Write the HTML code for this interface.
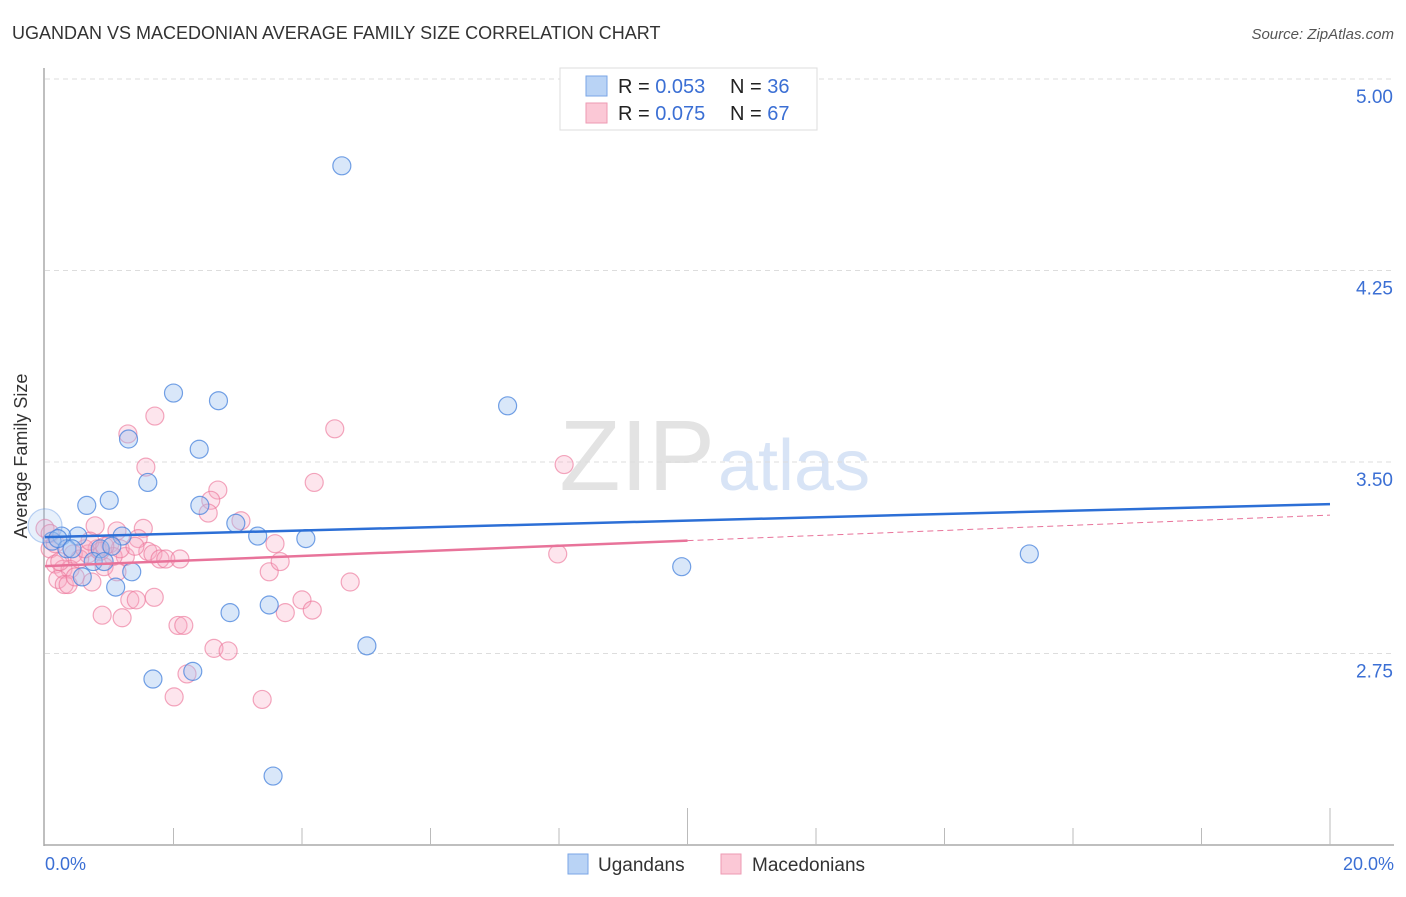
<!DOCTYPE html>
<html><head><meta charset="utf-8"><style>
body{margin:0;background:#fff;font-family:"Liberation Sans",sans-serif;}
svg text{font-family:"Liberation Sans",sans-serif;}
</style></head><body>
<svg id="chart" width="1406" height="892" viewBox="0 0 1406 892">
<text x="12" y="39" font-size="18" fill="#333">UGANDAN VS MACEDONIAN AVERAGE FAMILY SIZE CORRELATION CHART</text>
<text x="1394" y="39" font-size="15" fill="#555" font-style="italic" text-anchor="end">Source: ZipAtlas.com</text>
<text x="715" y="490" font-size="100" fill="#e3e3e3" font-family="Liberation Serif" text-anchor="end">ZIP</text>
<text x="718" y="490" font-size="72" fill="#d8e4f6">atlas</text>
<g id="grid"></g>
<g id="axes"></g>
<g id="pts"></g>
<g id="trend"></g>
<text x="27" y="456" font-size="18" fill="#333" text-anchor="middle" transform="rotate(-90 27 456)">Average Family Size</text>
<g>
<rect x="560" y="68" width="257" height="62" fill="#fff" stroke="#ddd"/>
<rect x="586" y="76" width="21" height="20" fill="#b9d3f5" stroke="#7aa6e6"/>
<rect x="586" y="103" width="21" height="20" fill="#fbc8d6" stroke="#ee9ab3"/>
<text x="618" y="93" font-size="20" fill="#222">R = <tspan fill="#3b6fd4">0.053</tspan><tspan x="730">N = </tspan><tspan fill="#3b6fd4">36</tspan></text>
<text x="618" y="120" font-size="20" fill="#222">R = <tspan fill="#3b6fd4">0.075</tspan><tspan x="730">N = </tspan><tspan fill="#3b6fd4">67</tspan></text>
</g>
<text x="45" y="870" font-size="18" fill="#3b6fd4">0.0%</text>
<text x="1394" y="870" font-size="18" fill="#3b6fd4" text-anchor="end">20.0%</text>
<g><rect x="568" y="854" width="20" height="20" fill="#b9d3f5" stroke="#7aa6e6"/><text x="598" y="871" font-size="19" fill="#333">Ugandans</text></g>
<g><rect x="721" y="854" width="20" height="20" fill="#fbc8d6" stroke="#ee9ab3"/><text x="752" y="871" font-size="19" fill="#333">Macedonians</text></g>
</svg>
<script>
const yTicks=[5.00,4.25,3.50,2.75];
const blueX=[4.62,2.0,2.7,7.2,1.3,2.4,1.6,1.0,0.65,2.41,2.97,3.31,4.06,0.51,0.26,0.11,0.86,0.34,1.2,1.04,0.75,0.92,1.35,0.58,1.1,9.91,15.32,2.88,3.49,5.01,1.68,2.3,3.55,0.0,0.2,0.42];
const blueY=[4.66,3.77,3.74,3.72,3.59,3.55,3.42,3.35,3.33,3.33,3.26,3.21,3.2,3.21,3.21,3.19,3.16,3.16,3.21,3.17,3.11,3.11,3.07,3.05,3.01,3.09,3.14,2.91,2.94,2.78,2.65,2.68,2.27,3.25,3.2,3.16];
const pinkX=[1.71,1.29,4.51,1.57,8.08,4.19,2.69,2.58,2.54,3.05,0.78,1.12,1.53,1.45,3.58,1.01,0.81,1.6,1.68,1.79,1.88,2.1,1.25,1.06,0.67,0.44,7.98,0.08,0.16,0.28,0.39,0.54,3.49,3.66,0.92,0.86,0.2,0.3,0.36,0.73,1.12,4.75,1.32,1.42,1.7,4.0,4.16,0.89,1.2,3.74,2.07,2.16,2.63,2.85,2.01,2.21,3.38,0.0,0.08,0.16,0.62,1.17,0.7,0.93,0.23,0.47,1.4];
const pinkY=[3.68,3.61,3.63,3.48,3.49,3.42,3.39,3.35,3.3,3.27,3.25,3.23,3.24,3.2,3.18,3.18,3.16,3.15,3.14,3.12,3.12,3.12,3.13,3.13,3.14,3.14,3.14,3.16,3.1,3.08,3.08,3.12,3.07,3.11,3.09,3.15,3.04,3.02,3.02,3.03,3.07,3.03,2.96,2.96,2.97,2.96,2.92,2.9,2.89,2.91,2.86,2.86,2.77,2.76,2.58,2.67,2.57,3.24,3.22,3.18,3.16,3.16,3.19,3.17,3.11,3.05,3.17];
const blueTrend=[3.206,3.335];
const pinkTrend=[3.092,3.292];
const NS='http://www.w3.org/2000/svg';
const X=v=>45+v/20*1285, Y=v=>79+(5-v)/0.75*191.5;
function mk(tag,attrs,parent){const e=document.createElementNS(NS,tag);for(const k in attrs)e.setAttribute(k,attrs[k]);document.getElementById(parent).appendChild(e);return e;}
yTicks.forEach(t=>{
 const l=mk('line',{x1:45,x2:1394,y1:Y(t),y2:Y(t),stroke:'#ddd','stroke-dasharray':'5 4'},'grid');
 
 
 const tx=mk('text',{x:1393,y:Y(t)+24,'font-size':19,fill:'#3b6fd4','text-anchor':'end'},'grid');
 tx.textContent=t.toFixed(2);
 
 
});
let a=mk('line',{x1:44,x2:44,y1:68,y2:846,stroke:'#aaa','stroke-width':1.5},'axes');


a=mk('line',{x1:44,x2:1394,y1:845,y2:845,stroke:'#aaa','stroke-width':1.5},'axes');


for(let i=1;i<=10;i++){
 const xx=X(i*2);const top=(i==5||i==10)?808:828;
 const t=mk('line',{x1:xx,x2:xx,y1:top,y2:845,stroke:'#bbb'},'axes');
 
 
}
pinkX.forEach((v,i)=>{
 const c=mk('circle',{cx:X(v),cy:Y(pinkY[i]),r:9,fill:'rgba(248,170,195,0.3)',stroke:'rgba(236,120,155,0.65)','stroke-width':1.2},'pts');
 
 
});
blueX.forEach((v,i)=>{
 const big=i==33;
 const c=mk('circle',{cx:X(v),cy:Y(blueY[i]),r:big?17:9,fill:big?'rgba(160,195,240,0.25)':'rgba(160,195,240,0.4)',stroke:big?'rgba(70,130,220,0.35)':'rgba(70,130,220,0.75)','stroke-width':1.2},'pts');
 
 
});
let tl=mk('line',{x1:X(0),y1:Y(blueTrend[0]),x2:X(20),y2:Y(blueTrend[1]),stroke:'#2c6fd6','stroke-width':2.5},'trend');


const pm=(pinkTrend[0]+pinkTrend[1])/2;
tl=mk('line',{x1:X(0),y1:Y(pinkTrend[0]),x2:X(10),y2:Y(pm),stroke:'#e8739a','stroke-width':2.5},'trend');


tl=mk('line',{x1:X(10),y1:Y(pm),x2:X(20),y2:Y(pinkTrend[1]),stroke:'#e8739a','stroke-width':1,'stroke-dasharray':'6 4'},'trend');


</script>
</body></html>
